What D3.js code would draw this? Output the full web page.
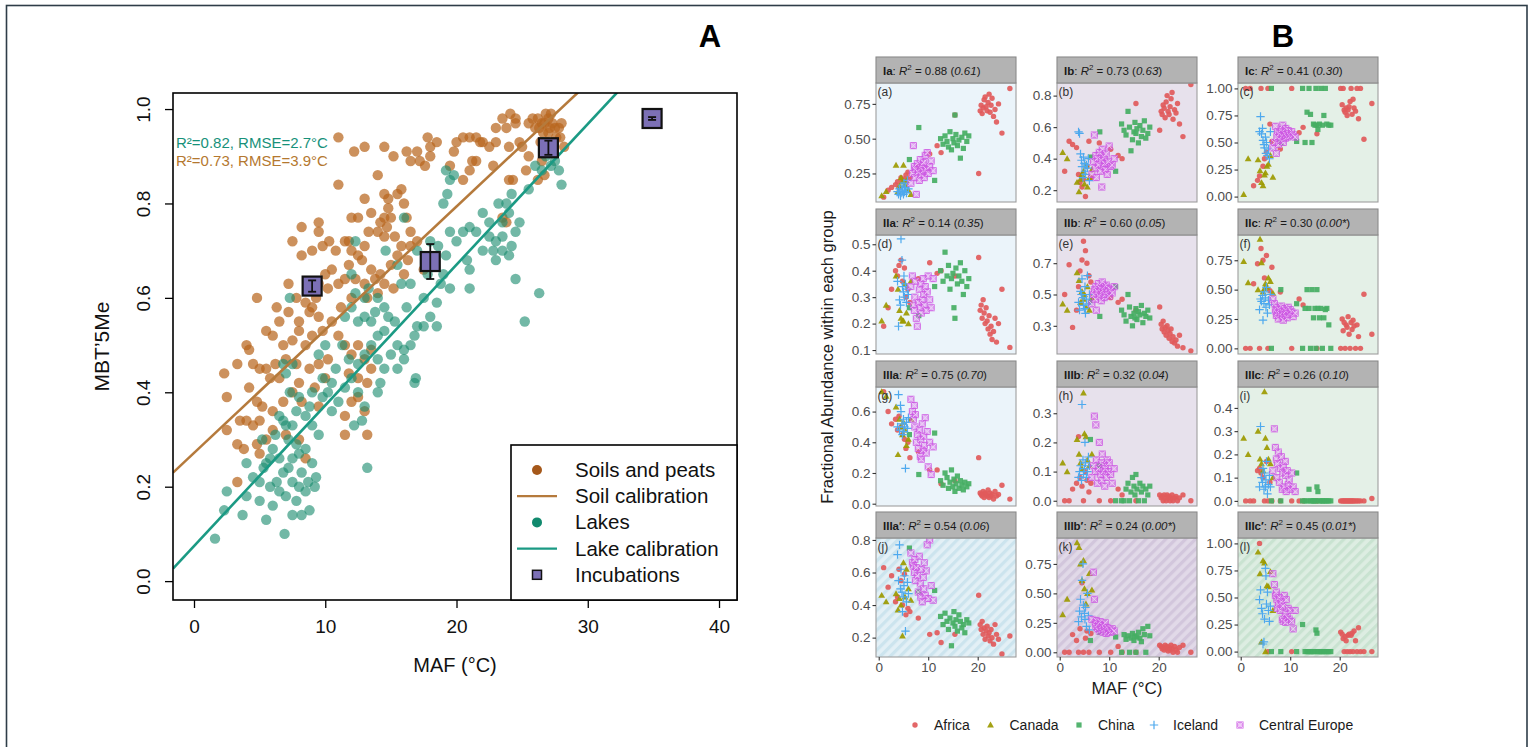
<!DOCTYPE html>
<html><head><meta charset="utf-8">
<script src="https://cdn.jsdelivr.net/npm/d3@7"></script>
<style>body{margin:0;background:#fff;} svg{display:block;font-family:"Liberation Sans",Arial,Helvetica,sans-serif;}</style>
</head><body><svg id="c" width="1530" height="747"></svg>
<script>
// ================= PANEL A DATA =================
const soilPoints = [
[26.2,0.98],[26.5,0.97],[26.8,0.99],[27.0,0.98],[27.3,0.97],[27.5,0.96],[26.6,0.95],[27.0,0.95],[27.6,0.94],[26.3,0.96],[27.8,0.96],[27.2,0.99],[26.0,0.96],[25.8,0.98],[26.9,0.93],[27.4,0.92],[28.2,0.92],[27.9,0.94],[25.5,0.97],[26.4,0.93],[27.1,0.96],[26.7,0.97],[28.0,0.97],
[24.1,0.99],[23.8,0.96],[24.5,0.97],[23.0,0.96],[23.5,0.98],[24.8,0.93],[25.5,0.90],[25.0,0.92],[24.0,0.92],[26.5,0.89],[26.2,0.85],[25.3,0.87],[24.0,0.85],[24.3,0.85],[26.7,0.86],[24.5,0.98],
[20.0,0.93],[21.0,0.94],[21.5,0.94],[20.5,0.94],[22.0,0.93],[21.8,0.93],[19.8,0.91],[19.5,0.88],[18.5,0.93],[18.0,0.92],[17.0,0.91],[16.5,0.89],[17.2,0.89],[17.6,0.88],[21.2,0.89],[21.5,0.89],[21.0,0.87],[20.5,0.85],[22.5,0.92],[23.0,0.93],[22.8,0.88],
[11.0,0.94],[12.2,0.91],[13.0,0.92],[17.8,0.94],[18.0,0.90],[16.2,0.91],[15.2,0.90],[14.5,0.92],[11.0,0.84],[14.0,0.86],[14.5,0.82],[15.5,0.82],[15.8,0.83],[14.8,0.81],[13.0,0.81],[13.5,0.78],[14.5,0.77],[14.8,0.79],[16.0,0.80],[12.5,0.77],[14.2,0.76],[14.7,0.75],[14.0,0.74],[14.5,0.73],[15.0,0.77],[16.2,0.77],[15.3,0.73],[16.5,0.74],[13.3,0.74],[12.0,0.77],[11.8,0.72],[23.5,0.77],[23.8,0.76],
[8.2,0.75],[9.5,0.76],[9.5,0.74],[7.5,0.72],[8.2,0.69],[9.0,0.70],[9.8,0.71],[10.3,0.72],[10.8,0.70],[11.5,0.72],[12.0,0.70],[12.5,0.69],[13.0,0.71],[12.8,0.68],[11.8,0.67],[10.5,0.66],[10.0,0.65],[9.5,0.63],[10.2,0.62],[11.0,0.63],[11.5,0.64],[12.3,0.64],[13.0,0.63],[13.5,0.66],[13.8,0.64],[14.2,0.65],[14.5,0.63],[15.0,0.67],[15.5,0.69],[16.3,0.68],[16.0,0.65],[15.2,0.62],[14.0,0.61],[13.2,0.60],[12.0,0.60],[11.2,0.58],[9.0,0.58],[8.8,0.57],[9.5,0.56],[8.5,0.59],[9.3,0.60],[7.2,0.63],[7.8,0.60],[6.3,0.58],[6.5,0.55],[7.2,0.57],[8.0,0.55],[15.8,0.71],[16.5,0.71],[17.0,0.72],[18.0,0.68],[17.5,0.66],
[4.8,0.60],[5.5,0.53],[6.0,0.52],[6.8,0.50],[7.5,0.51],[8.0,0.53],[8.5,0.50],[9.0,0.52],[9.8,0.53],[10.5,0.55],[11.0,0.52],[11.5,0.50],[12.0,0.48],[12.5,0.50],[13.0,0.47],[13.5,0.49],[10.2,0.47],[9.5,0.46],[8.8,0.45],[7.8,0.46],[7.0,0.47],[6.2,0.46],[5.5,0.45],[4.5,0.46],[4.0,0.50],[4.2,0.49],[5.0,0.45],[11.8,0.44],[12.5,0.43],[13.2,0.42],[13.5,0.45],[10.0,0.43],[9.2,0.41],[8.0,0.42],[6.5,0.43],[5.8,0.43],[4.2,0.41],[4.8,0.38],[5.2,0.37],[6.0,0.36],[6.8,0.38],[7.5,0.40],[8.2,0.38],[9.5,0.37],[12.0,0.38],[13.0,0.36],[11.5,0.35],[11.5,0.31],[13.2,0.31],[12.5,0.39],[2.3,0.44],[2.5,0.39],[3.3,0.46],[3.5,0.34],[4.0,0.34],[4.5,0.33],[5.0,0.34],[2.5,0.32],[3.3,0.29],[3.8,0.28],[4.8,0.29],[5.0,0.27],[5.5,0.30],[6.0,0.32],[3.3,0.21],[7.0,0.31],[8.0,0.30],[8.5,0.26]
];
const lakePoints = [
[1.6,0.09],[2.3,0.15],[2.5,0.19],[3.7,0.14],[4.0,0.18],[4.0,0.25],[4.5,0.22],[5.0,0.21],[5.0,0.17],[5.3,0.24],[5.5,0.25],[5.8,0.20],[5.5,0.13],[6.0,0.16],[6.3,0.21],[6.5,0.19],[6.8,0.23],[6.9,0.10],[7.0,0.18],[7.2,0.24],[7.5,0.21],[7.8,0.17],[7.5,0.14],[8.0,0.20],[8.2,0.23],[8.5,0.19],[8.7,0.21],[8.0,0.27],[7.8,0.29],[8.5,0.28],[9.0,0.25],[9.3,0.22],[7.2,0.30],[7.5,0.33],[6.8,0.34],[6.5,0.35],[6.2,0.31],[6.0,0.28],[5.8,0.26],[7.3,0.40],[8.0,0.39],[8.5,0.35],[9.0,0.33],[9.5,0.31],[8.8,0.37],[7.0,0.44],[7.5,0.46],[6.8,0.46],[9.8,0.43],[10.2,0.40],[10.5,0.36],[11.0,0.38],[10.8,0.45],[11.3,0.50],[10.0,0.50],[9.5,0.48],[11.8,0.47],[12.0,0.43],[12.5,0.40],[13.0,0.37],[12.2,0.33],[12.8,0.34],[13.2,0.24],[11.5,0.41],[12.5,0.46],[13.0,0.48],[13.5,0.50],[14.0,0.52],[14.5,0.53],[14.0,0.47],[14.2,0.42],[14.0,0.40],[14.5,0.45],[15.0,0.48],[15.5,0.50],[16.0,0.49],[15.3,0.55],[14.8,0.56],[14.5,0.58],[13.8,0.57],[13.5,0.55],[13.0,0.56],[12.5,0.55],[12.0,0.58],[12.3,0.61],[13.0,0.60],[13.3,0.62],[14.0,0.60],[12.0,0.65],[12.3,0.72],[7.3,0.60],[11.5,0.56],[15.5,0.45],[16.0,0.47],[16.5,0.50],[16.8,0.52],[17.0,0.54],[17.5,0.54],[18.0,0.56],[18.5,0.54],[18.5,0.59],[17.5,0.60],[16.5,0.63],[15.8,0.63],[16.2,0.58],[16.8,0.42],[16.9,0.43],[15.5,0.67],[14.6,0.70],[17.8,0.65],[18.8,0.63],[19.5,0.62],[19.0,0.65],[19.2,0.69],[20.0,0.72],[20.5,0.74],[21.0,0.75],[21.5,0.74],[20.8,0.68],[21.0,0.66],[21.0,0.62],[22.0,0.70],[22.5,0.73],[22.8,0.70],[23.0,0.68],[23.5,0.70],[24.0,0.69],[24.2,0.71],[24.5,0.74],[23.5,0.73],[22.5,0.76],[22.0,0.78],[23.2,0.80],[23.8,0.80],[24.2,0.82],[24.0,0.78],[23.5,0.76],[24.5,0.64],[26.3,0.61],[25.2,0.55],[19.5,0.74],[19.0,0.80],[19.3,0.82],[19.5,0.85],[19.2,0.87],[19.8,0.86],[23.0,0.72],[26.0,0.88],[26.5,0.87],[26.8,0.90],[27.2,0.88],[27.5,0.89],[27.8,0.87],[28.0,0.84],[27.0,0.92],[26.6,0.93],[25.5,0.83],[24.8,0.76],[18.0,0.72],[18.6,0.71],[17.0,0.70],[16.0,0.77],[9.8,0.39],[10.5,0.42],[9.0,0.40],[7.8,0.36],[7.0,0.33],[6.5,0.26],[5.2,0.30],[7.5,0.26],[8.8,0.15],[8.2,0.14],[9.2,0.20]
];
const incubationMAF = [9.0, 18.0, 27.0, 34.9];
const incubationMBT = [0.625, 0.677, 0.918, 0.980];
const incubationErr = [0.012, 0.037, 0.015, 0.003];
const soilCalibration = [0.2715, 0.0261];   // intercept, slope
const lakeCalibration = [0.0743, 0.0298];
const statsLake = "R\u00b2=0.82, RMSE=2.7\u00b0C";
const statsSoil = "R\u00b2=0.73, RMSE=3.9\u00b0C";
const legendA = ["Soils and peats","Soil calibration","Lakes","Lake calibration","Incubations"];
const xTicksA = [0,10,20,30,40];
const yTicksA = [0,0.2,0.4,0.6,0.8,1.0];

// ================= PANEL B DATA =================
const groupNames = ["Africa","Canada","China","Iceland","Central Europe"];
const panelTags = ["a","b","c","d","e","f","g","h","i","j","k","l"];
const panelCodes = ["Ia","Ib","Ic","IIa","IIb","IIc","IIIa","IIIb","IIIc","IIIa\u2032","IIIb\u2032","IIIc\u2032"];
const panelR2 = ["0.88","0.73","0.41","0.14","0.60","0.30","0.75","0.32","0.26","0.54","0.24","0.45"];
const panelP = ["0.61","0.63","0.30","0.35","0.05","0.00*","0.70","0.04","0.10","0.06","0.00*","0.01*"];
const panelYTicks = [
 [0.25,0.5,0.75],[0.2,0.4,0.6,0.8],[0,0.25,0.5,0.75,1],
 [0.1,0.2,0.3,0.4,0.5],[0.3,0.5,0.7],[0,0.25,0.5,0.75],
 [0,0.2,0.4,0.6],[0,0.1,0.2,0.3],[0,0.1,0.2,0.3,0.4],
 [0.2,0.4,0.6,0.8],[0,0.25,0.5,0.75],[0,0.25,0.5,0.75,1]];
const panelYRange = [
 [0.045,0.90],[0.125,0.88],[-0.05,1.05],
 [0.085,0.535],[0.12,0.88],[-0.048,0.965],
 [-0.015,0.76],[-0.018,0.39],[-0.022,0.49],
 [0.081,0.812],[-0.04,0.97],[-0.05,1.05]];
const mafRangeB = [-0.55, 27.74];
const xTicksB = [0,10,20];

const africaMAF = [1.0,1.9,2.6,3.4,3.8,4.1,4.5,4.8,5.2,5.5,5.9,6.3,8.0,10.3,11.8,12.6,15.4,20.2,20.5,20.7,20.9,21.1,21.3,21.5,21.7,21.9,22.1,22.3,22.5,22.7,22.9,23.2,23.5,23.8,24.2,24.9,26.5];
const africaY = [
 [0.08,0.13,0.15,0.17,0.19,0.15,0.22,0.20,0.21,0.24,0.26,0.22,0.30,0.39,0.45,0.40,0.67, 0.25,0.70,0.74,0.68,0.72,0.78,0.80,0.73,0.70,0.76,0.82,0.69,0.74,0.79,0.66,0.71,0.62,0.75,0.54,0.86],
 [0.32,0.51,0.49,0.47,0.30,0.25,0.22,0.27,0.16,0.35,0.51,0.28,0.50,0.46,0.42,0.40,0.75, 0.58,0.70,0.68,0.74,0.72,0.66,0.76,0.80,0.70,0.68,0.73,0.78,0.82,0.65,0.71,0.69,0.75,0.62,0.54,0.87],
 [1.0,1.0,0.10,0.15,0.19,1.0,0.28,0.35,0.41,1.0,0.67,0.51,0.44,1.0,0.59,0.64,0.58, 1.0,0.85,1.0,0.80,0.78,0.82,0.75,0.80,0.83,0.88,1.0,0.76,0.90,0.82,0.79,1.0,0.72,1.0,0.53,0.86],
 [0.19,0.26,0.33,0.40,0.38,0.42,0.44,0.36,0.41,0.30,0.33,0.28,0.37,0.43,0.39,0.40,0.38, 0.45,0.25,0.27,0.22,0.29,0.24,0.20,0.26,0.21,0.18,0.23,0.16,0.19,0.14,0.17,0.22,0.13,0.20,0.33,0.11],
 [0.50,0.69,0.29,0.40,0.55,0.65,0.72,0.84,0.78,0.70,0.62,0.58,0.52,0.48,0.45,0.47,0.40, 0.42,0.31,0.28,0.33,0.26,0.29,0.24,0.30,0.27,0.22,0.25,0.28,0.20,0.23,0.19,0.21,0.17,0.24,0.16,0.14],
 [0,0,0.55,0.72,0,0.85,0.75,0.60,0.79,0,0.49,0.69,0.48,0,0.42,0.37,0, 0,0.25,0.15,0.22,0,0.20,0.18,0.27,0.12,0,0.22,0.16,0.24,0.19,0,0.20,0.10,0,0.46,0.12],
 [0.73,0.60,0.52,0.55,0.48,0.57,0.50,0.45,0.42,0.36,0.40,0.30,0.34,0.22,0.22,0.13,0.15, 0.30,0.07,0.06,0.05,0.08,0.04,0.07,0.06,0.05,0.09,0.04,0.07,0.05,0.06,0.03,0.08,0.05,0.06,0.12,0.03],
 [0,0,0.04,0.06,0.22,0.08,0.05,0,0.10,0.07,0.03,0.06,0,0,0.04,0.02,0, 0.02,0.01,0.015,0,0.02,0.01,0,0.02,0.01,0.015,0,0.01,0.02,0,0.01,0.015,0,0.01,0.02,0],
 [0,0,0,0.13,0.14,0.12,0.10,0,0.17,0,0.08,0,0,0,0,0,0, 0,0,0,0,0,0,0,0,0,0,0,0,0,0,0,0,0,0,0,0.01,0],
 [0.63,0.51,0.58,0.42,0.45,0.62,0.55,0.40,0.59,0.34,0.38,0.36,0.32,0.22,0.23,0.17,0.22, 0.46,0.28,0.25,0.30,0.22,0.26,0.19,0.24,0.27,0.21,0.23,0.18,0.25,0.20,0.16,0.28,0.22,0.19,0.10,0.21],
 [0,0,0.15,0.10,0,0.20,0.59,0,0.12,0.18,0,0.16,0,0,0.05,0,0, 0.06,0.05,0.03,0.04,0.02,0.06,0.03,0.05,0.01,0.04,0.02,0.06,0.03,0,0.05,0.02,0,0.04,0.06,0],
 [null,null,null,null,1.0,null,null,null,null,0,null,null,null,0,null,null,null, 0.18,0.16,0.12,0,0.14,0.10,0,0.15,0.16,0,0.15,0.17,0,0.19,0.10,0,0.22,0,0,0]
];
const canadaMAF = [0.6,1.5,3.5,3.9,4.2,4.5,4.8,5.0,5.3,5.6,6.0,6.5];
const canadaY = [
 [0.09,0.12,0.31,0.12,0.16,0.22,0.19,0.31,0.17,0.20,0.13,0.10],
 [0.44,0.40,0.25,0.19,0.27,0.30,0.32,0.24,0.36,0.22,0.28,0.33],
 [0.02,0.35,0.34,0.24,0.13,0.10,0.20,0.22,0.28,0.30,0.38,0.18],
 [0.21,0.27,0.38,0.33,0.25,0.22,0.21,0.21,0.35,0.24,0.20,0.36],
 [0.44,0.40,0.64,0.59,0.45,0.52,0.47,0.50,0.42,0.55,0.40,0.48],
 [0.74,0.56,0.50,0.93,0.73,0.48,0.51,0.55,0.52,0.60,0.57,0.47],
 [0.73,0.70,0.63,0.32,0.55,0.50,0.45,0.53,0.48,0.38,0.42,0.55],
 [0.13,0.10,0.21,0.16,0.13,0.11,0.37,0.23,0.22,0.14,0.12,0.16],
 [0.27,0.20,0.30,0.18,0.16,0.13,0.47,0.27,0.23,0.18,0.16,0.10],
 [0.46,0.42,0.47,0.37,0.44,0.40,0.21,0.66,0.45,0.62,0.50,0.43],
 [0.32,0.45,0.93,0.89,0.75,0.61,0.78,0.54,0.41,0.50,0.67,0.53],
 [null,null,0.92,0.72,0.09,0.84,0.82,0,0.61,0.60,0.74,0.38]
];
const chinaMAF = [6.2,8.1,11.3,12.5,13.0,13.4,13.8,14.1,14.4,14.7,15.0,15.2,15.4,15.6,15.9,16.2,16.5,16.8,17.1,17.4,17.8,18.2];
const chinaY = [
 [0.35,0.58,0.20,0.50,0.46,0.52,0.48,0.44,0.55,0.42,0.50,0.47,0.67,0.53,0.45,0.49,0.36,0.51,0.43,0.54,0.48,0.52],
 [0.41,0.57,0.32,0.62,0.58,0.55,0.70,0.60,0.45,0.52,0.57,0.63,0.56,0.59,0.50,0.61,0.54,0.58,0.64,0.53,0.56,0.60],
 [1.0,0.50,0.51,1.0,0.50,0.78,1.0,0.76,0.50,0.67,0.66,1.0,0.66,0.62,0.67,1.0,0.66,0.75,1.0,0.67,0.66,0.66],
 [0.26,0.23,0.34,0.40,0.36,0.47,0.38,0.42,0.33,0.37,0.39,0.26,0.22,0.41,0.35,0.38,0.43,0.36,0.31,0.40,0.34,0.37],
 [0.45,0.36,0.55,0.40,0.37,0.33,0.50,0.42,0.36,0.30,0.38,0.35,0.41,0.34,0.39,0.37,0.43,0.32,0.38,0.36,0.40,0.35],
 [0,0.50,0.38,0,0.34,0.50,0.34,0,0.50,0.26,0.34,0,0.50,0.34,0.26,0.34,0,0.26,0.33,0.34,0.20,0],
 [0.45,0.19,0.46,0.15,0.12,0.20,0.17,0.10,0.14,0.22,0.11,0.16,0.08,0.13,0.18,0.10,0.15,0.12,0.09,0.14,0.11,0.13],
 [0.21,0.12,0,0,0,0.04,0.06,0,0.03,0.08,0.05,0.02,0.09,0.04,0,0.06,0.03,0.05,0,0.04,0.02,0.05],
 [0,0,0.12,0,0,0,0.05,0,0,0,0,0,0.06,0.04,0,0,0,0,0,0,0,0],
 [0.75,0.48,0.49,0.33,0.28,0.35,0.30,0.25,0.32,0.15,0.29,0.36,0.27,0.31,0.24,0.34,0.30,0.26,0.28,0.23,0.31,0.29],
 [0.10,0.17,0.13,0,0.15,0.11,0.14,0,0.12,0.16,0.10,0.14,0,0.13,0.17,0.12,0.09,0.20,0.15,0,0.22,0.14],
 [0,0,0,0.25,0,0,0,0,0,0,0,0.20,0.17,0,0,0,0,0,0,0,0,0]
];
const icelandMAF = [3.8,4.0,4.2,4.4,4.5,4.7,4.8,5.0,5.1,5.2,5.4,5.6,5.8,6.0];
const icelandY = [
 [0.12,0.10,0.14,0.09,0.11,0.16,0.13,0.10,0.18,0.12,0.15,0.11,0.20,0.14],
 [0.57,0.56,0.43,0.39,0.35,0.28,0.41,0.37,0.32,0.30,0.36,0.34,0.40,0.26],
 [0.60,0.74,0.58,0.63,0.52,0.48,0.45,0.55,0.40,0.50,0.38,0.44,0.35,0.60],
 [0.36,0.19,0.29,0.27,0.52,0.44,0.34,0.32,0.38,0.30,0.35,0.28,0.33,0.31],
 [0.45,0.40,0.52,0.50,0.60,0.48,0.43,0.41,0.55,0.38,0.47,0.62,0.44,0.50],
 [0.33,0.42,0.40,0.45,0.24,0.38,0.48,0.43,0.35,0.52,0.30,0.41,0.37,0.46],
 [0.50,0.71,0.48,0.64,0.60,0.52,0.45,0.55,0.47,0.50,0.23,0.53,0.49,0.56],
 [0.08,0.10,0.12,0.07,0.33,0.14,0.09,0.11,0.20,0.13,0.08,0.10,0.15,0.12],
 [0.06,0.32,0.10,0.08,0.14,0.05,0.12,0.06,0.09,0.17,0.03,0.07,0.11,0.06],
 [0.71,0.55,0.77,0.50,0.62,0.48,0.36,0.45,0.52,0.58,0.24,0.42,0.54,0.47],
 [0.26,0.35,0.45,0.30,0.61,0.75,0.40,0.33,0.28,0.38,0.22,0.50,0.31,0.19],
 [0.48,0.57,0.40,0.35,0.07,0.09,0.30,0.77,0.70,0.44,0.55,0.38,0.28,0.42]
];
const centralEuropeMAF = [6.5,6.8,7.0,7.2,7.3,7.4,7.6,7.8,8.0,8.2,8.4,8.5,8.6,8.8,9.0,9.1,9.2,9.4,9.6,9.8,10.0,10.3,10.6,11.0];
const centralEuropeY = [
 [0.18,0.25,0.45,0.30,0.22,0.28,0.10,0.32,0.26,0.20,0.35,0.29,0.24,0.31,0.27,0.33,0.22,0.38,0.28,0.40,0.25,0.30,0.34,0.27],
 [0.30,0.38,0.55,0.34,0.42,0.28,0.40,0.36,0.44,0.32,0.39,0.22,0.46,0.35,0.41,0.37,0.33,0.43,0.30,0.38,0.48,0.35,0.36,0.40],
 [0.45,0.50,0.65,0.40,0.55,0.60,0.48,0.58,0.52,0.62,0.56,0.66,0.50,0.59,0.54,0.63,0.57,0.55,0.61,0.58,0.56,0.60,0.57,0.55],
 [0.34,0.38,0.27,0.25,0.30,0.36,0.22,0.19,0.28,0.33,0.26,0.35,0.24,0.29,0.37,0.31,0.27,0.34,0.25,0.32,0.38,0.29,0.26,0.37],
 [0.44,0.50,0.53,0.47,0.55,0.40,0.52,0.57,0.49,0.54,0.46,0.51,0.58,0.53,0.48,0.55,0.50,0.56,0.52,0.54,0.49,0.53,0.51,0.55],
 [0.42,0.38,0.32,0.28,0.35,0.30,0.25,0.33,0.29,0.36,0.27,0.31,0.24,0.34,0.30,0.28,0.32,0.26,0.35,0.29,0.33,0.31,0.27,0.30],
 [0.68,0.60,0.55,0.64,0.50,0.58,0.40,0.45,0.36,0.48,0.31,0.42,0.29,0.52,0.35,0.44,0.38,0.56,0.33,0.47,0.24,0.40,0.19,0.37],
 [0.08,0.12,0.29,0.10,0.26,0.14,0.06,0.11,0.20,0.09,0.13,0.07,0.16,0.10,0.12,0.05,0.11,0.08,0.14,0.10,0.13,0.09,0.06,0.11],
 [0.13,0.31,0.23,0.18,0.10,0.16,0.21,0.08,0.14,0.19,0.05,0.12,0.15,0.06,0.17,0.11,0.04,0.13,0.07,0.09,0.05,0.12,0.06,0.04],
 [0.72,0.66,0.64,0.60,0.68,0.55,0.63,0.58,0.48,0.70,0.53,0.45,0.62,0.42,0.57,0.50,0.66,0.46,0.61,0.77,0.44,0.80,0.52,0.43],
 [0.28,0.68,0.45,0.25,0.22,0.27,0.20,0.24,0.18,0.26,0.21,0.19,0.23,0.17,0.22,0.20,0.25,0.16,0.21,0.18,0.19,0.17,0.20,0.18],
 [0.72,0.62,0.52,0.55,0.48,0.40,0.44,0.50,0.38,0.46,0.30,0.42,0.28,0.52,0.35,0.27,0.48,0.32,0.40,0.30,0.38,0.28,0.21,0.38]
];

// ================= DRAW =================
const svg = d3.select("#c");
svg.append("rect").attr("x",0).attr("y",0).attr("width",1530).attr("height",747).attr("fill","#fff");
svg.append("rect").attr("x",6.5).attr("y",5.5).attr("width",1520.5).attr("height",760)
  .attr("fill","none").attr("stroke","#2E3D48").attr("stroke-width",1.6);

// ---------- Panel A ----------
const A = {left:173, right:737, top:93, bottom:600};
const xA = d3.scaleLinear().domain([-1.6, 41.37]).range([A.left, A.right]);
const yA = d3.scaleLinear().domain([-0.040, 1.034]).range([A.bottom, A.top]);
const soilCol = "#B9661E", lakeCol = "#1C8C70";
const defs = svg.append("defs");
defs.append("clipPath").attr("id","clipA").append("rect")
  .attr("x",A.left).attr("y",A.top).attr("width",A.right-A.left).attr("height",A.bottom-A.top);
const gA = svg.append("g");
const pts = gA.append("g").attr("clip-path","url(#clipA)");
pts.selectAll(".soil").data(soilPoints).enter().append("circle")
  .attr("cx",d=>xA(d[0])).attr("cy",d=>yA(d[1])).attr("r",5.2)
  .attr("fill",soilCol).attr("fill-opacity",0.72);
pts.selectAll(".lake").data(lakePoints).enter().append("circle")
  .attr("cx",d=>xA(d[0])).attr("cy",d=>yA(d[1])).attr("r",5.2)
  .attr("fill",lakeCol).attr("fill-opacity",0.62);
const xDomA = xA.domain();
[[soilCalibration,"#B57A3C"],[lakeCalibration,"#1B9A84"]].forEach(([c,col])=>{
  pts.append("line")
    .attr("x1",xA(xDomA[0])).attr("y1",yA(c[0]+c[1]*xDomA[0]))
    .attr("x2",xA(xDomA[1])).attr("y2",yA(c[0]+c[1]*xDomA[1]))
    .attr("stroke",col).attr("stroke-width",2.6);
});
// incubations
const incCol = "#7C70B6";
incubationMAF.forEach((m,i)=>{
  const cx = xA(m), cy = yA(incubationMBT[i]);
  gA.append("rect").attr("x",cx-9.5).attr("y",cy-9.5).attr("width",19).attr("height",19)
    .attr("fill",incCol).attr("stroke","#111").attr("stroke-width",2.2);
  const y1 = yA(incubationMBT[i]-incubationErr[i]), y2 = yA(incubationMBT[i]+incubationErr[i]);
  gA.append("line").attr("x1",cx).attr("x2",cx).attr("y1",y1).attr("y2",y2).attr("stroke","#111").attr("stroke-width",1.8);
  [y1,y2].forEach(yy=>gA.append("line").attr("x1",cx-4).attr("x2",cx+4).attr("y1",yy).attr("y2",yy).attr("stroke","#111").attr("stroke-width",1.8));
});
gA.append("rect").attr("x",A.left).attr("y",A.top).attr("width",A.right-A.left).attr("height",A.bottom-A.top)
  .attr("fill","none").attr("stroke","#000").attr("stroke-width",1.6);
// axes
const axB = gA.append("g").attr("transform",`translate(0,${A.bottom})`)
  .call(d3.axisBottom(xA).tickValues(xTicksA).tickSize(8).tickPadding(12).tickFormat(d3.format("d")));
axB.select(".domain").remove();
axB.selectAll("line").attr("stroke","#000").attr("stroke-width",1.3);
axB.selectAll("text").attr("font-size",19).attr("fill","#111").attr("font-family","Liberation Sans, Arial, sans-serif");
const axL = gA.append("g").attr("transform",`translate(${A.left},0)`)
  .call(d3.axisLeft(yA).tickValues(yTicksA).tickSize(8).tickFormat(d3.format(".1f")));
axL.select(".domain").remove();
axL.selectAll("line").attr("stroke","#000").attr("stroke-width",1.3);
axL.selectAll("text").attr("font-size",19).attr("fill","#111").attr("font-family","Liberation Sans, Arial, sans-serif")
  .attr("x",0).attr("y",-23).attr("dy",0).attr("text-anchor","middle").attr("transform","rotate(-90)");
gA.append("text").attr("x",(A.left+A.right)/2).attr("y",672).attr("text-anchor","middle")
  .attr("font-size",20).attr("fill","#111").text("MAF (\u00b0C)");
gA.append("text").attr("transform",`translate(109,${(A.top+A.bottom)/2}) rotate(-90)`).attr("text-anchor","middle")
  .attr("font-size",21).attr("fill","#111").text("MBT\u20195Me");
gA.append("text").attr("x",176).attr("y",148).attr("font-size",15).attr("fill","#17917A").text(statsLake);
gA.append("text").attr("x",176).attr("y",166).attr("font-size",15).attr("fill","#B4782F").text(statsSoil);
// legend A
const L = {x:511, y:445, w:226, h:155};
gA.append("rect").attr("x",L.x).attr("y",L.y).attr("width",L.w).attr("height",L.h)
  .attr("fill","#fff").attr("stroke","#000").attr("stroke-width",1.6);
legendA.forEach((t,i)=>{
  const yy = 470 + i*26.2;
  const sx = 537;
  if(i===0) gA.append("circle").attr("cx",sx).attr("cy",yy).attr("r",5).attr("fill","#A5581A");
  if(i===2) gA.append("circle").attr("cx",sx).attr("cy",yy).attr("r",5).attr("fill","#118A6E");
  if(i===1) gA.append("line").attr("x1",sx-20).attr("x2",sx+20).attr("y1",yy).attr("y2",yy).attr("stroke","#B57A3C").attr("stroke-width",2.2);
  if(i===3) gA.append("line").attr("x1",sx-20).attr("x2",sx+20).attr("y1",yy).attr("y2",yy).attr("stroke","#1B9A84").attr("stroke-width",2.2);
  if(i===4) gA.append("rect").attr("x",sx-4.5).attr("y",yy-4.5).attr("width",9).attr("height",9).attr("fill",incCol).attr("stroke","#111").attr("stroke-width",1.5);
  gA.append("text").attr("x",575).attr("y",yy+7).attr("font-size",20.5).attr("fill","#111").text(t);
});
svg.append("text").attr("x",710).attr("y",47).attr("text-anchor","middle").attr("font-size",31).attr("font-weight","bold").attr("fill","#000").text("A");
svg.append("text").attr("x",1283).attr("y",47).attr("text-anchor","middle").attr("font-size",31).attr("font-weight","bold").attr("fill","#000").text("B");

// ---------- Panel B ----------
const colX = [876, 1057, 1238], rowY = [57, 209, 361, 512];
const PW = 140, SH = 26, PH = 119;
const colBg = ["#EBF4FA","#E7E1EC","#E4F0E7"];
const hatchBg = ["#E3F0F6","#E1D9E8","#DDEDE2"];
const hatchLine = ["#CCE4EE","#D2C6DC","#C9E3D1"];
const groupCols = ["#E15A5B","#9C9A00","#45AE63","#4EA9EE","#CC57E3"];
const groupMAF = [africaMAF, canadaMAF, chinaMAF, icelandMAF, centralEuropeMAF];
const groupY = [africaY, canadaY, chinaY, icelandY, centralEuropeY];
const gB = svg.append("g");
colBg.forEach((c,i)=>{
  const p = defs.append("pattern").attr("id","hatch"+i).attr("patternUnits","userSpaceOnUse")
    .attr("width",7).attr("height",7).attr("patternTransform","rotate(45)");
  p.append("rect").attr("width",7).attr("height",7).attr("fill",hatchBg[i]);
  p.append("rect").attr("width",3.2).attr("height",7).attr("fill",hatchLine[i]);
});
function drawMarker(g, gi, x, y){
  const col = groupCols[gi];
  if(gi===0){ g.append("circle").attr("cx",x).attr("cy",y).attr("r",2.7).attr("fill",col).attr("fill-opacity",0.92); }
  else if(gi===1){ const s=3.4; g.append("path").attr("d",`M${x},${y-s}L${x+s},${y+s*0.75}L${x-s},${y+s*0.75}Z`).attr("fill",col).attr("fill-opacity",0.92); }
  else if(gi===2){ g.append("rect").attr("x",x-2.6).attr("y",y-2.6).attr("width",5.2).attr("height",5.2).attr("fill",col).attr("fill-opacity",0.92); }
  else if(gi===3){ const s=4.2; g.append("path").attr("d",`M${x-s},${y}H${x+s}M${x},${y-s}V${y+s}`).attr("stroke",col).attr("stroke-width",1.2).attr("fill","none"); }
  else { const s=3.0; g.append("rect").attr("x",x-s).attr("y",y-s).attr("width",2*s).attr("height",2*s).attr("fill",col).attr("fill-opacity",0.4).attr("stroke",col).attr("stroke-width",1.1).attr("stroke-opacity",0.85);
    g.append("path").attr("d",`M${x-s},${y-s}L${x+s},${y+s}M${x+s},${y-s}L${x-s},${y+s}`).attr("stroke","#F3D2F8").attr("stroke-width",0.9).attr("stroke-opacity",0.9); }
}
for(let i=0;i<12;i++){
  const r = Math.floor(i/3), c = i%3;
  const x0 = colX[c], sTop = rowY[r], pTop = sTop+SH;
  const x = d3.scaleLinear().domain(mafRangeB).range([x0, x0+PW]);
  const y = d3.scaleLinear().domain(panelYRange[i]).range([pTop+PH, pTop]);
  const g = gB.append("g");
  g.append("rect").attr("x",x0).attr("y",pTop).attr("width",PW).attr("height",PH)
    .attr("fill", r===3 ? `url(#hatch${c})` : colBg[c]);
  defs.append("clipPath").attr("id","cp"+i).append("rect").attr("x",x0).attr("y",pTop).attr("width",PW).attr("height",PH);
  const pg = g.append("g").attr("clip-path",`url(#cp${i})`);
  for(let gi=0; gi<5; gi++){
    const xs = groupMAF[gi], ys = groupY[gi][i];
    for(let k=0;k<Math.min(xs.length, ys.length);k++){
      if(ys[k]===null || ys[k]===undefined) continue;
      drawMarker(pg, gi, x(xs[k]), y(ys[k]));
    }
  }
  g.append("rect").attr("x",x0).attr("y",pTop).attr("width",PW).attr("height",PH)
    .attr("fill","none").attr("stroke","#9E9E9E").attr("stroke-width",1.1);
  g.append("rect").attr("x",x0).attr("y",sTop).attr("width",PW).attr("height",SH)
    .attr("fill","#B3B3B3").attr("stroke","#8A8A8A").attr("stroke-width",1.1);
  const st = g.append("text").attr("x",x0+7).attr("y",sTop+17.5).attr("font-size",11.5).attr("fill","#1A1A1A");
  st.append("tspan").attr("font-weight","bold").text(panelCodes[i]);
  st.append("tspan").text(": ");
  st.append("tspan").attr("font-style","italic").text("R");
  st.append("tspan").attr("font-size",8).attr("dy",-5).text("2");
  st.append("tspan").attr("dy",5).text(" = "+panelR2[i]+" (");
  st.append("tspan").attr("font-style","italic").text(panelP[i]);
  st.append("tspan").text(")");
  g.append("text").attr("x",x0+1.5).attr("y",pTop+13).attr("font-size",12).attr("fill","#333").text("("+panelTags[i]+")");
  const ticks = panelYTicks[i];
  const twoDec = ticks.some(t=>Math.abs(t*10-Math.round(t*10))>1e-6);
  const ay = g.append("g").attr("transform",`translate(${x0},0)`)
    .call(d3.axisLeft(y).tickValues(ticks).tickSize(3.5).tickPadding(2).tickFormat(d3.format(twoDec?".2f":".1f")));
  ay.select(".domain").remove();
  ay.selectAll("line").attr("stroke","#333").attr("stroke-width",1.1);
  ay.selectAll("text").attr("font-size",13.5).attr("fill","#4D4D4D").attr("font-family","Liberation Sans, Arial, sans-serif");
  if(r===3){
    const ax = g.append("g").attr("transform",`translate(0,${pTop+PH})`)
      .call(d3.axisBottom(x).tickValues(xTicksB).tickSize(3.5).tickPadding(2).tickFormat(d3.format("d")));
    ax.select(".domain").remove();
    ax.selectAll("line").attr("stroke","#333").attr("stroke-width",1.1);
    ax.selectAll("text").attr("font-size",13.5).attr("fill","#4D4D4D").attr("font-family","Liberation Sans, Arial, sans-serif");
  }
}
gB.append("text").attr("transform",`translate(833,${(rowY[0]+rowY[3]+SH+PH)/2}) rotate(-90)`).attr("text-anchor","middle")
  .attr("font-size",16.5).attr("fill","#1A1A1A").text("Fractional Abundance within each group");
gB.append("text").attr("x",colX[1]+PW/2).attr("y",694).attr("text-anchor","middle")
  .attr("font-size",17).attr("fill","#1A1A1A").text("MAF (\u00b0C)");
const legX = [915, 990.5, 1079, 1154, 1240];
groupNames.forEach((n,gi)=>{
  drawMarker(gB, gi, legX[gi], 725);
  gB.append("text").attr("x",legX[gi]+19).attr("y",730).attr("font-size",14).attr("fill","#1A1A1A").text(n);
});
</script></body></html>
